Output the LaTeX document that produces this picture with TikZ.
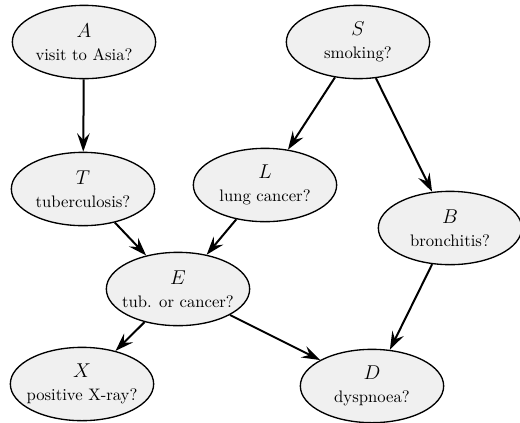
\documentclass[tikz,border=0pt]{standalone}
\usepackage{tikz}
\usetikzlibrary{arrows.meta, shapes}

\begin{document}
\begin{tikzpicture}[x=0.6pt, y=-0.6pt,
    var/.style={ellipse, draw, thick, fill=black!6, minimum width=86pt,
      minimum height=44pt, inner sep=-6pt, align=center},
    dep/.style={very thick, -{Stealth[length=11pt, width=7.5pt, inset=4pt]}}]
%    \tikzstyle{every node} = [draw]
    \useasboundingbox (0, 0) rectangle (520, 422);
    \node [var] (asia) at (84, 42) {{\large $A$}\\[2pt] visit to Asia?};
    \node [var] (smoke) at (358, 42) {{\large $S$}\\[2pt] smoking?};
    \node [var] (tub) at (83, 189) {{\large $T$}\\[2pt] tuberculosis?};
    \node [var] (lung) at (265, 185) {{\large $L$}\\[2pt] lung cancer?};
    \node [var] (bronc) at (450, 228) {{\large $B$}\\[2pt] bronchitis?};
    \node [var] (either) at (178, 289) {{\large $E$}\\[2pt] tub. or cancer?};
    \node [var] (xray) at (82, 384) {{\large $X$}\\[2pt] positive X-ray?};
    \node [var] (dysp) at (372, 386) {{\large $D$}\\[2pt] dyspnoea?};
    \draw [dep] (asia) -- (tub);
    \draw [dep] (smoke) -- (lung);
    \draw [dep] (smoke) -- (bronc);
    \draw [dep] (tub) -- (either);
    \draw [dep] (lung) -- (either);
    \draw [dep] (either) -- (xray);
    \draw [dep] (either) -- (dysp);
    \draw [dep] (bronc) -- (dysp);
  \end{tikzpicture}
\end{document}
